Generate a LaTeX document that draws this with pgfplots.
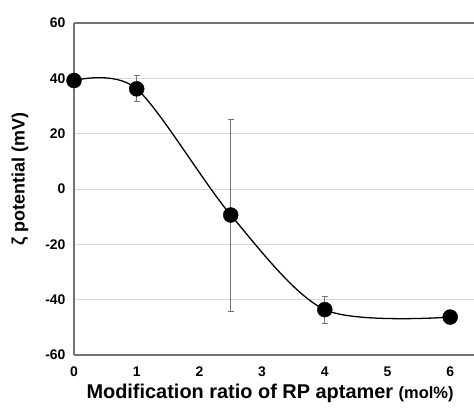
\documentclass[border=0pt]{standalone}
\usepackage{fontspec}
\setmainfont{Liberation Sans}
\usepackage{pgfplots}
\pgfplotsset{compat=1.18}
\definecolor{axisgray}{gray}{0.45}
\definecolor{gridgray}{gray}{0.85}
\definecolor{errgray}{gray}{0.45}
\begin{document}
\begin{tikzpicture}
\path[use as bounding box] (-74bp,-57bp) rectangle (400bp,355bp);
\begin{axis}[scale only axis, width=400bp, height=332bp,
  xmin=0, xmax=6.38, ymin=-60, ymax=60,
  xtick={0,1,2,3,4,5,6}, ytick={-60,-40,-20,0,20,40,60},
  axis x line*=box, axis y line*=left,
  axis line style={axisgray, line width=1.2pt, -},
  major tick length=0pt,
  ymajorgrids, grid style={gridgray, line width=0.9pt},
  clip=false,
  /pgf/number format/assume math mode=true,
  tick label style={font=\fontsize{14}{16}\selectfont\bfseries},
  yticklabel style={xshift=-5bp},
  xticklabel style={yshift=-8bp},
  xlabel={Modification ratio of RP aptamer {\fontsize{16.5}{18}\selectfont(mol\%)}},
  xlabel style={font=\fontsize{20}{22}\selectfont\bfseries,
    at={(axis description cs:0.49,-0.13)}, anchor=base},
  ylabel={ζ potential (mV)},
  ylabel style={font=\fontsize{18}{20}\selectfont\bfseries,
    at={(axis description cs:-0.135,0.53)}, anchor=center},
]
% error bars
\addplot[draw=none, mark=none, forget plot,
  error bars/.cd, y dir=both, y explicit,
  error bar style={errgray, line width=0.8pt},
  error mark options={rotate=90, mark size=3bp, errgray, line width=0.8pt}]
  table[x=x, y=y, y error=e] {
x y e
1 36.2 4.7
2.5 -9.4 34.7
4 -43.6 4.9
};
% smoothed line
\addplot[black, line width=1.3pt, smooth, tension=0.5, mark=none] table[x=x, y=y] {
x y
0 39.2
1 36.2
2.5 -9.4
4 -43.6
6 -46.3
};
% markers
\addplot[only marks, mark=*, mark size=7.5bp, black] table[x=x, y=y] {
x y
0 39.2
1 36.2
2.5 -9.4
4 -43.6
6 -46.3
};
\end{axis}
\end{tikzpicture}
\end{document}
